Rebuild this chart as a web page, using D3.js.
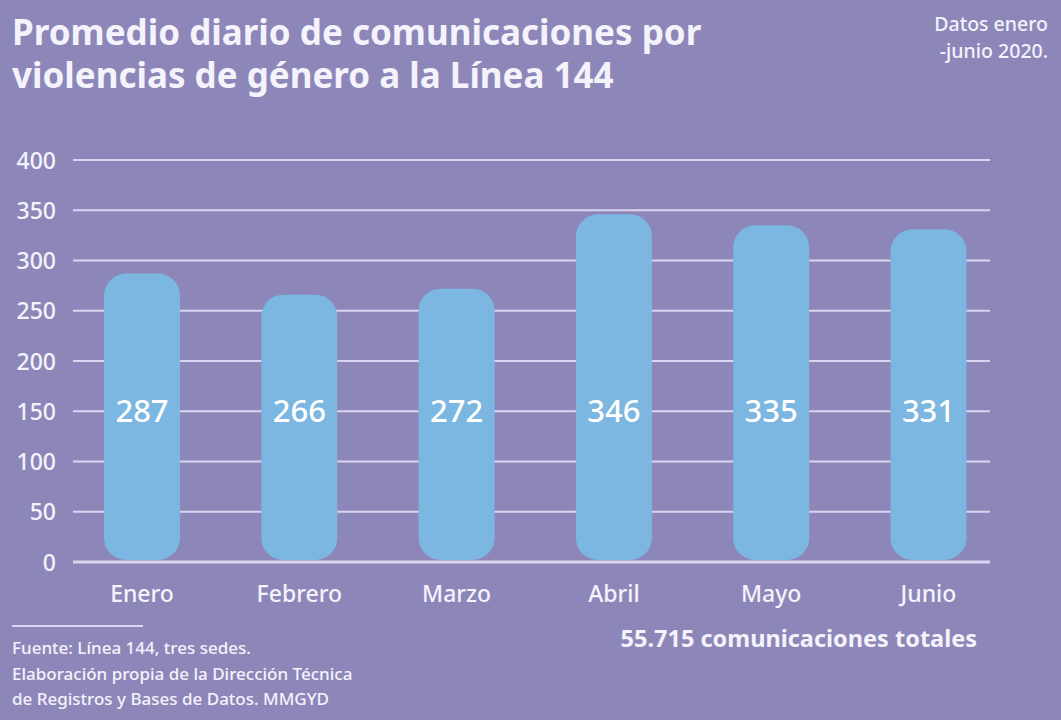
<!DOCTYPE html>
<html><head><meta charset="utf-8">
<script src="https://cdn.jsdelivr.net/npm/d3@7"></script>
<style>
html,body{margin:0;padding:0;background:#8d87b9;}
svg{display:block;}
text{font-family:"Noto Sans","Open Sans",sans-serif;}
</style></head>
<body>
<div id="chart"></div>
<script>
const months = ["Enero","Febrero","Marzo","Abril","Mayo","Junio"];
const values = [287,266,272,346,335,331];
const yTicks = [0,50,100,150,200,250,300,350,400];
const titleLines = ["Promedio diario de comunicaciones por","violencias de género a la Línea 144"];
const noteLines = ["Datos enero","-junio 2020."];
const sourceLines = ["Fuente: Línea 144, tres sedes.","Elaboración propia de la Dirección Técnica","de Registros y Bases de Datos. MMGYD"];
const totalText = "55.715 comunicaciones totales";

const W = 1061, H = 720;
const bg = "#8d87b9", fg = "#f4f2fb", grid = "#d9d5f0", barColor = "#7bb7e0";

const svg = d3.select("#chart").append("svg").attr("width", W).attr("height", H);
svg.append("rect").attr("width", W).attr("height", H).attr("fill", bg);

const y = d3.scaleLinear().domain([0,400]).range([562,160]);
const x = d3.scaleBand().domain(months).range([64.7,1005.8]).paddingInner(0.517).paddingOuter(0.25);

// title
svg.append("g").selectAll("text").data(titleLines).join("text")
  .attr("x", 12).attr("y", (d,i)=>45 + i*43)
  .attr("fill", fg).attr("font-size", 35).attr("font-weight", 700)
  .text(d=>d);

svg.append("g").selectAll("text").data(noteLines).join("text")
  .attr("x", 1048).attr("y", (d,i)=>31 + i*27).attr("text-anchor","end")
  .attr("fill", fg).attr("font-size", 19.5).attr("font-weight", 500).text(d=>d);

// grid
const yAxis = d3.axisLeft(y).tickValues(yTicks).tickSize(0).tickPadding(0);
const gy = svg.append("g");
gy.selectAll("line").data(yTicks).join("line")
  .attr("x1", 73).attr("x2", 990)
  .attr("y1", d=>y(d)).attr("y2", d=>y(d))
  .attr("stroke", grid).attr("stroke-width", d=>d===0?3:2.2);
const ga = svg.append("g").attr("transform","translate(56,0)").call(yAxis);
ga.select(".domain").remove();
ga.selectAll("text").attr("fill", fg).attr("font-size", 23).attr("font-weight", 500)
  .attr("font-family",'"Noto Sans","Open Sans",sans-serif').attr("dy","0.35em");

// bars
const r = 22;
svg.append("g").selectAll("rect").data(values).join("rect")
  .attr("x", (d,i)=>x(months[i])).attr("width", x.bandwidth())
  .attr("y", d=>y(d)).attr("height", d=>y(0)-2-y(d))
  .attr("rx", r).attr("ry", r).attr("fill", barColor);

// value labels
svg.append("g").selectAll("text").data(values).join("text")
  .attr("x", (d,i)=>x(months[i]) + x.bandwidth()/2)
  .attr("y", y(150)).attr("dy","0.36em").attr("text-anchor","middle")
  .attr("fill", "#ffffff").attr("font-size", 31).attr("font-weight", 500).text(d=>d);

// x axis labels
const xAxis = d3.axisBottom(x).tickSize(0).tickPadding(0);
const gx = svg.append("g").attr("transform","translate(0,602)").call(xAxis);
gx.select(".domain").remove();
gx.selectAll("text").attr("fill", fg).attr("font-size", 23).attr("font-weight", 500).attr("dy", 0)
  .attr("font-family",'"Noto Sans","Open Sans",sans-serif');

// footer
svg.append("line").attr("x1",12).attr("x2",143).attr("y1",626).attr("y2",626)
  .attr("stroke", grid).attr("stroke-width",2);
svg.append("g").selectAll("text").data(sourceLines).join("text")
  .attr("x", 12).attr("y", (d,i)=>654 + i*25.5)
  .attr("fill", fg).attr("font-size", 17).attr("font-weight", 500).text(d=>d);

svg.append("text").attr("x", 977).attr("y", 647).attr("text-anchor","end")
  .attr("fill", fg).attr("font-size", 23.5).attr("font-weight",700).text(totalText);
</script>
</body></html>
